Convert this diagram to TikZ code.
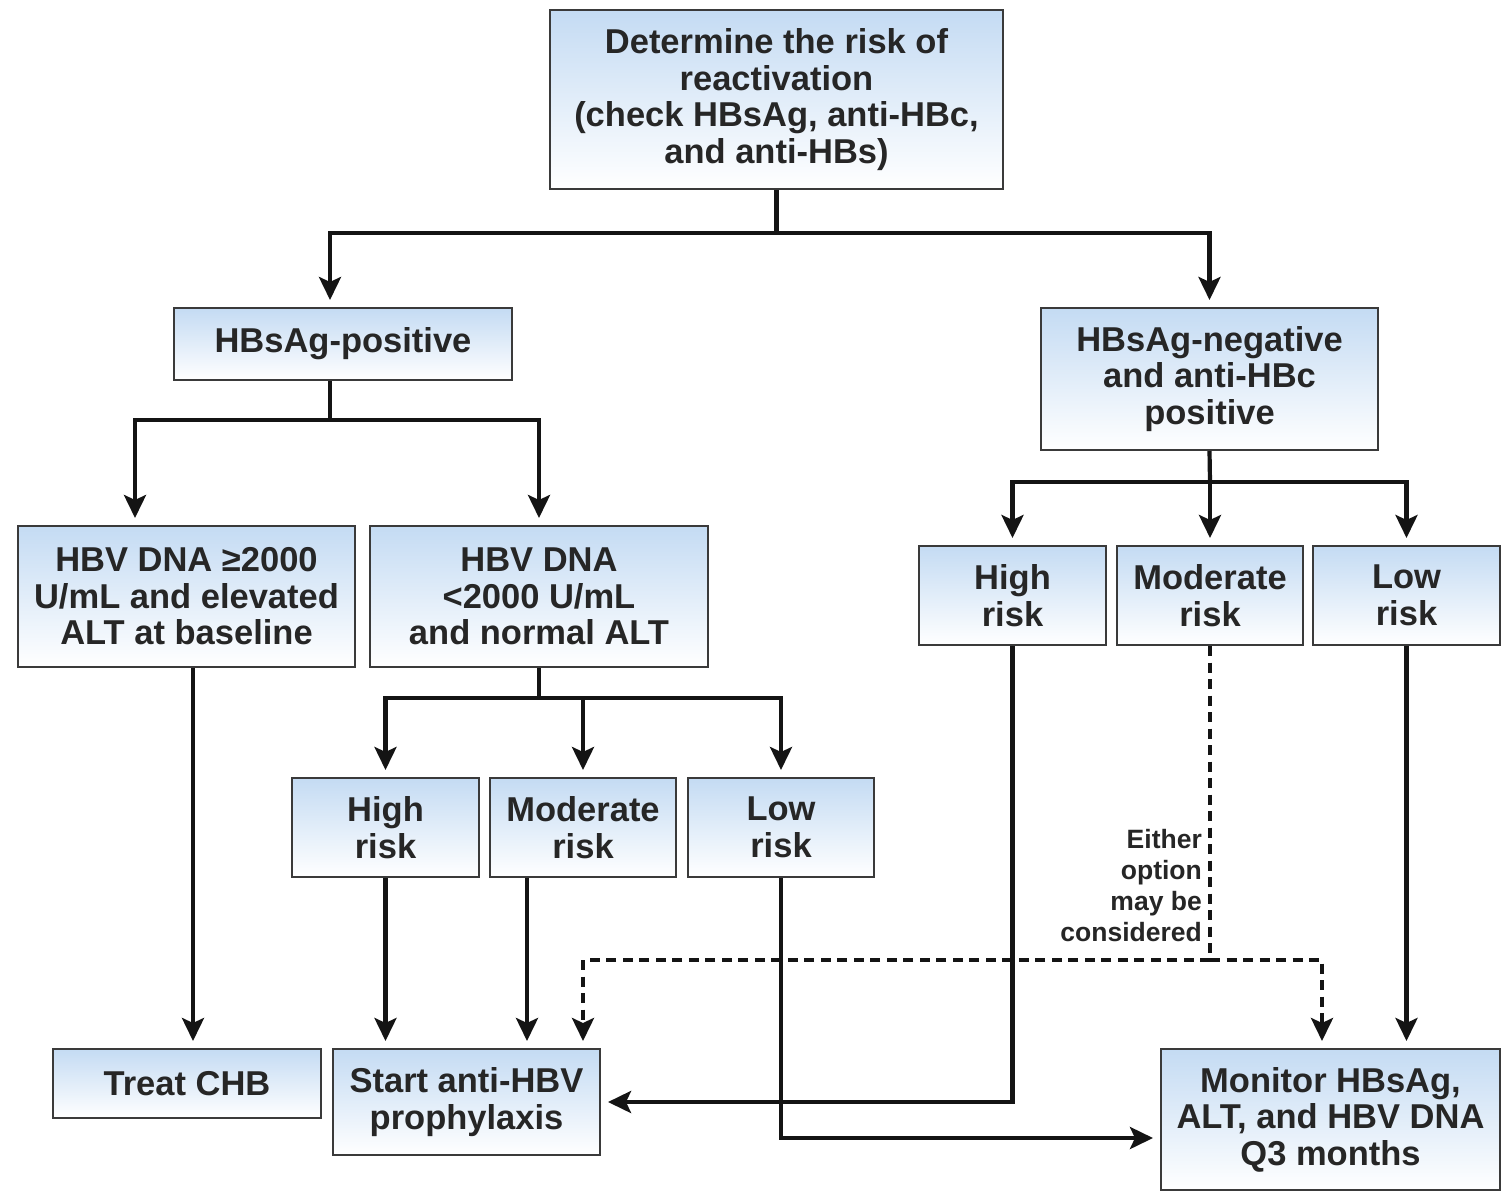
\documentclass[tikz,border=0pt]{standalone}
\usepackage{fontspec}
\setmainfont{Liberation Sans}
\usetikzlibrary{arrows.meta,calc}
\definecolor{boxtop}{HTML}{C4DBF3}
\definecolor{boxedge}{HTML}{3A3A3A}
\definecolor{ink}{HTML}{262626}
\definecolor{wire}{HTML}{141414}
\begin{document}
\begin{tikzpicture}[x=1pt,y=-1pt,
  box/.style={draw=boxedge, line width=2pt, top color=boxtop, bottom color=white,
    align=center, inner sep=0pt, text=ink,
    font=\bfseries\fontsize{34.5}{36.5}\selectfont},
  link/.style={line width=4.2pt, draw=wire},
  tip/.style={-{Stealth[length=23pt,width=22pt,inset=5pt]}, shorten >=7pt},
  arr/.style={link, tip},
  dashlink/.style={link, dash pattern=on 10pt off 6.5pt},
  note/.style={align=right, inner sep=0pt, text=ink,
    font=\bfseries\fontsize{26.5}{31}\selectfont},
]
% canvas
\fill[white] (0,0) rectangle (1512,1194);
\useasboundingbox (0,0) rectangle (1512,1194);

% boxes
\node[box, minimum width=453pt, minimum height=179pt] (top) at (776.5,99.5)
  {Determine the risk of\\reactivation\\(check HBsAg, anti-HBc,\\and anti-HBs)};
\node[box, minimum width=338pt, minimum height=72pt] (pos) at (343,344) {HBsAg-positive};
\node[box, minimum width=337pt, minimum height=142pt] (neg) at (1209.5,379)
  {HBsAg-negative\\and anti-HBc\\positive};
\node[box, minimum width=337pt, minimum height=141pt] (dnahi) at (186.5,596.5)
  {HBV DNA ≥2000\\U/mL and elevated\\ALT at baseline};
\node[box, minimum width=338pt, minimum height=141pt] (dnalo) at (539,596.5)
  {HBV DNA\\<2000 U/mL\\and normal ALT};
\node[box, minimum width=187pt, minimum height=99pt] (hrL) at (385.5,827.5) {High\\risk};
\node[box, minimum width=186pt, minimum height=99pt] (mrL) at (583,827.5) {Moderate\\risk};
\node[box, minimum width=186pt, minimum height=99pt] (lrL) at (781,827.5) {Low\\risk};
\node[box, minimum width=187pt, minimum height=99pt] (hrR) at (1012.5,595.5) {High\\risk};
\node[box, minimum width=186pt, minimum height=99pt] (mrR) at (1210,595.5) {Moderate\\risk};
\node[box, minimum width=187pt, minimum height=99pt] (lrR) at (1406.5,595.5) {Low\\risk};
\node[box, minimum width=268pt, minimum height=69pt] (treat) at (187,1083.5) {Treat CHB};
\node[box, minimum width=267pt, minimum height=106pt] (start) at (466.5,1102)
  {Start anti-HBV\\prophylaxis};
\node[box, minimum width=339pt, minimum height=141pt] (mon) at (1330.5,1119.5)
  {Monitor HBsAg,\\ALT, and HBV DNA\\Q3 months};

% junction points
\coordinate (j1) at (776.5,233);
\coordinate (j2) at (330,420);
\coordinate (j3) at (1210,482);
\coordinate (j4) at (539,698);
\coordinate (j5) at (1210,960);

% top split
\draw[link] (top.south) -- (j1);
\draw[arr] (j1) -| ([xshift=-13pt]pos.north);
\draw[arr] (j1) -| (neg.north);

% HBsAg-positive split
\draw[link] ([xshift=-13pt]pos.south) -- (j2);
\draw[arr] (j2) -| ([xshift=-51.5pt]dnahi.north);
\draw[arr] (j2) -| (dnalo.north);

% HBsAg-negative split
\draw[link] (neg.south) -- (j3);
\draw[arr] (j3) -| (hrR.north);
\draw[arr] (j3) -| (mrR.north);
\draw[arr] (j3) -| (lrR.north);

% low viral load split
\draw[link] (dnalo.south) -- (j4);
\draw[arr] (j4) -| (hrL.north);
\draw[arr] (j4) -| (mrL.north);
\draw[arr] (j4) -| (lrL.north);

% outcomes
\draw[arr] ([xshift=6.5pt]dnahi.south) -- ([xshift=6pt]treat.north);
\draw[arr] (hrL.south) -- (hrL.south |- start.north);
\draw[arr] ([xshift=-56pt]mrL.south) -- ([xshift=-56pt]mrL.south |- start.north);
\draw[arr] (lrL.south) |- ([yshift=-18.5pt]mon.west);
\draw[arr] (hrR.south) |- (start.east);
\draw[arr] (lrR.south) -- (lrR.south |- mon.north);

% optional route for moderate risk
\draw[dashlink] (mrR.south) -- (j5);
\draw[dashlink, tip] (j5) -| ([xshift=116.5pt]start.north);
\draw[dashlink, tip] (j5) -| ([xshift=-8.5pt]mon.north);
\node[note, anchor=north east] (either) at (1202,829)
  {Either\\option\\may be\\considered};
\end{tikzpicture}
\end{document}
